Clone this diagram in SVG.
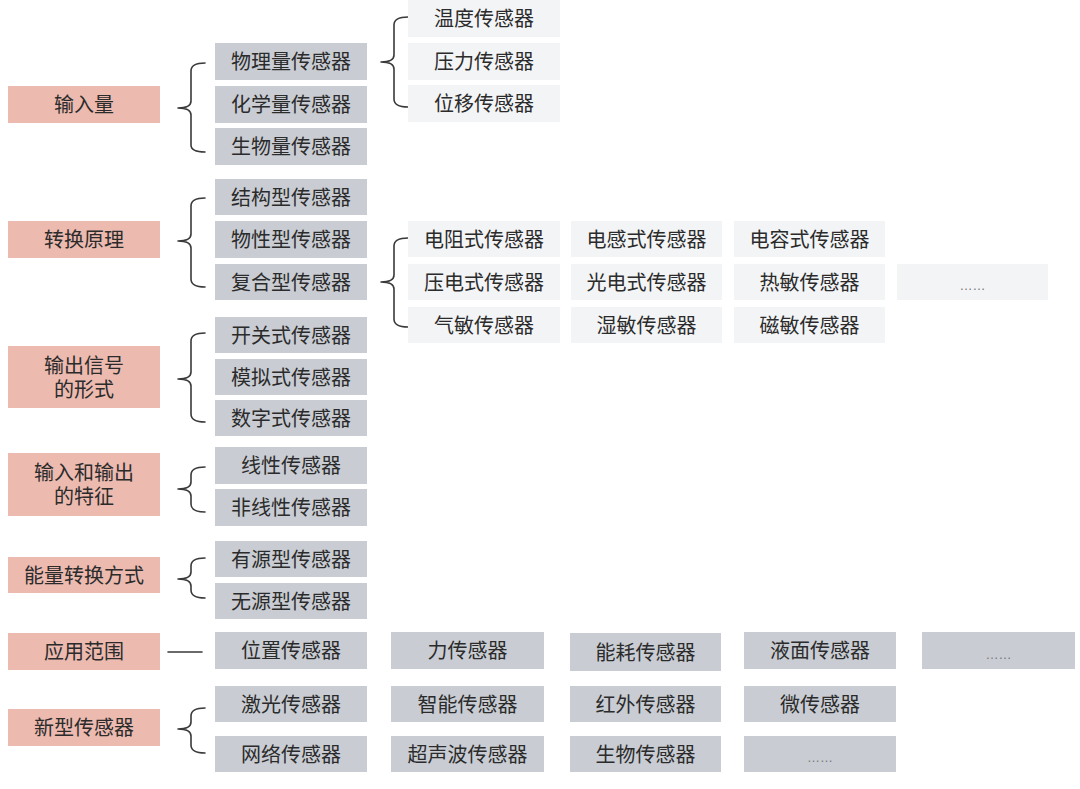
<svg xmlns="http://www.w3.org/2000/svg" width="1080" height="789" viewBox="0 0 1080 789">
<style>
.cat{fill:#ECBAAF}
.l2{fill:#C9CDD3}
.l3{fill:#F3F4F6}
text{font-family:"Noto Sans CJK SC","Noto Sans",sans-serif;font-size:20px;fill:#2b2b2b;text-anchor:middle;dominant-baseline:central}
.dots{font-family:"Liberation Sans",sans-serif;font-size:13px;fill:#777;dominant-baseline:auto}
.br{fill:none;stroke:#3a3a3a;stroke-width:1.6;stroke-linecap:round;stroke-linejoin:round}
</style>
<rect width="1080" height="789" fill="#ffffff"/>
<g id="connectors">
<path class="br" d="M205,63 Q191,63 191,71 L191,101 Q191,108 178,108 Q191,108 191,115 L191,145 Q191,152 205,152"/>
<path class="br" d="M408,17 Q394,17 394,25 L394,55 Q394,62 381,62 Q394,62 394,69 L394,99 Q394,107 408,107"/>
<path class="br" d="M205,198 Q191,198 191,206 L191,234 Q191,241 178,241 Q191,241 191,248 L191,279 Q191,287 205,287"/>
<path class="br" d="M408,238 Q394,238 394,246 L394,275 Q394,282 381,282 Q394,282 394,289 L394,319 Q394,327 408,327"/>
<path class="br" d="M205,333 Q191,333 191,341 L191,372 Q191,379 178,379 Q191,379 191,386 L191,414 Q191,422 205,422"/>
<path class="br" d="M205,467 Q191,467 191,475 L191,482 Q191,489 178,489 Q191,489 191,496 L191,504 Q191,512 205,512"/>
<path class="br" d="M205,558 Q191,558 191,566 L191,572 Q191,579 178,579 Q191,579 191,586 L191,590 Q191,598 205,598"/>
<path class="br" d="M168,652 L202,652"/>
<path class="br" d="M205,708 Q191,708 191,716 L191,722 Q191,729 178,729 Q191,729 191,736 L191,745 Q191,753 205,753"/>
</g>
<g id="cat-input"><rect class="cat" x="8" y="86" width="152" height="37"/><text x="84" y="103.5">输入量</text></g>
<g id="cat-principle"><rect class="cat" x="8" y="221" width="152" height="37"/><text x="84" y="238.5">转换原理</text></g>
<g id="cat-output"><rect class="cat" x="8" y="346" width="152" height="62"/><text x="84" y="364">输出信号<tspan x="84" dy="24">的形式</tspan></text></g>
<g id="cat-io"><rect class="cat" x="8" y="453" width="152" height="63"/><text x="84" y="471">输入和输出<tspan x="84" dy="24">的特征</tspan></text></g>
<g id="cat-energy"><rect class="cat" x="8" y="557" width="152" height="36"/><text x="84" y="574">能量转换方式</text></g>
<g id="cat-app"><rect class="cat" x="8" y="633" width="152" height="37"/><text x="84" y="650.5">应用范围</text></g>
<g id="cat-new"><rect class="cat" x="8" y="709" width="152" height="37"/><text x="84" y="726.5">新型传感器</text></g>

<g id="n-physical"><rect class="l2" x="215" y="43" width="152" height="37"/><text x="291" y="60.5">物理量传感器</text></g>
<g id="n-chemical"><rect class="l2" x="215" y="86" width="152" height="37"/><text x="291" y="103.5">化学量传感器</text></g>
<g id="n-bio"><rect class="l2" x="215" y="128" width="152" height="37"/><text x="291" y="145.5">生物量传感器</text></g>
<g id="n-struct"><rect class="l2" x="215" y="179" width="152" height="36"/><text x="291" y="196">结构型传感器</text></g>
<g id="n-prop"><rect class="l2" x="215" y="221" width="152" height="37"/><text x="291" y="238.5">物性型传感器</text></g>
<g id="n-comp"><rect class="l2" x="215" y="264" width="152" height="36"/><text x="291" y="281">复合型传感器</text></g>
<g id="n-switch"><rect class="l2" x="215" y="317" width="152" height="36"/><text x="291" y="334">开关式传感器</text></g>
<g id="n-analog"><rect class="l2" x="215" y="359" width="152" height="36"/><text x="291" y="376">模拟式传感器</text></g>
<g id="n-digital"><rect class="l2" x="215" y="400" width="152" height="36"/><text x="291" y="417">数字式传感器</text></g>
<g id="n-linear"><rect class="l2" x="215" y="447" width="152" height="37"/><text x="291" y="464.5">线性传感器</text></g>
<g id="n-nonlinear"><rect class="l2" x="215" y="489" width="152" height="37"/><text x="291" y="506.5">非线性传感器</text></g>
<g id="n-active"><rect class="l2" x="215" y="541" width="152" height="36"/><text x="291" y="558">有源型传感器</text></g>
<g id="n-passive"><rect class="l2" x="215" y="583" width="152" height="36"/><text x="291" y="600">无源型传感器</text></g>

<g id="n-temp"><rect class="l3" x="408" y="0" width="152" height="37"/><text x="484" y="17.5">温度传感器</text></g>
<g id="n-press"><rect class="l3" x="408" y="43" width="152" height="37"/><text x="484" y="60.5">压力传感器</text></g>
<g id="n-disp"><rect class="l3" x="408" y="85" width="152" height="37"/><text x="484" y="102.5">位移传感器</text></g>

<g id="n-resist"><rect class="l3" x="408" y="221" width="152" height="36"/><text x="484" y="238">电阻式传感器</text></g>
<g id="n-induct"><rect class="l3" x="571" y="221" width="151" height="36"/><text x="646.5" y="238">电感式传感器</text></g>
<g id="n-capac"><rect class="l3" x="734" y="221" width="151" height="36"/><text x="809.5" y="238">电容式传感器</text></g>
<g id="n-piezo"><rect class="l3" x="408" y="264" width="152" height="36"/><text x="484" y="281">压电式传感器</text></g>
<g id="n-photo"><rect class="l3" x="571" y="264" width="151" height="36"/><text x="646.5" y="281">光电式传感器</text></g>
<g id="n-thermal"><rect class="l3" x="734" y="264" width="151" height="36"/><text x="809.5" y="281">热敏传感器</text></g>
<g id="n-more1"><rect class="l3" x="897" y="264" width="151" height="36"/><text class="dots" x="972.5" y="290">……</text></g>
<g id="n-gas"><rect class="l3" x="408" y="307" width="152" height="36"/><text x="484" y="324">气敏传感器</text></g>
<g id="n-humid"><rect class="l3" x="571" y="307" width="151" height="36"/><text x="646.5" y="324">湿敏传感器</text></g>
<g id="n-magnet"><rect class="l3" x="734" y="307" width="151" height="36"/><text x="809.5" y="324">磁敏传感器</text></g>

<g id="n-position"><rect class="l2" x="215" y="632" width="152" height="37"/><text x="291" y="649.5">位置传感器</text></g>
<g id="n-force"><rect class="l2" x="391" y="632" width="153" height="37"/><text x="467.5" y="649.5">力传感器</text></g>
<g id="n-energy"><rect class="l2" x="570" y="633" width="151" height="38"/><text x="645.5" y="651">能耗传感器</text></g>
<g id="n-level"><rect class="l2" x="744" y="632" width="152" height="37"/><text x="820" y="649.5">液面传感器</text></g>
<g id="n-more2"><rect class="l2" x="922" y="632" width="153" height="37"/><text class="dots" x="998.5" y="659">……</text></g>

<g id="n-laser"><rect class="l2" x="215" y="686" width="152" height="36"/><text x="291" y="703">激光传感器</text></g>
<g id="n-smart"><rect class="l2" x="391" y="686" width="153" height="36"/><text x="467.5" y="703">智能传感器</text></g>
<g id="n-ir"><rect class="l2" x="570" y="686" width="151" height="36"/><text x="645.5" y="703">红外传感器</text></g>
<g id="n-micro"><rect class="l2" x="744" y="686" width="152" height="36"/><text x="820" y="703">微传感器</text></g>
<g id="n-network"><rect class="l2" x="215" y="736" width="152" height="36"/><text x="291" y="753">网络传感器</text></g>
<g id="n-ultra"><rect class="l2" x="391" y="736" width="153" height="36"/><text x="467.5" y="753">超声波传感器</text></g>
<g id="n-biosens"><rect class="l2" x="570" y="736" width="151" height="36"/><text x="645.5" y="753">生物传感器</text></g>
<g id="n-more3"><rect class="l2" x="744" y="736" width="152" height="36"/><text class="dots" x="820" y="762">……</text></g>
</svg>
